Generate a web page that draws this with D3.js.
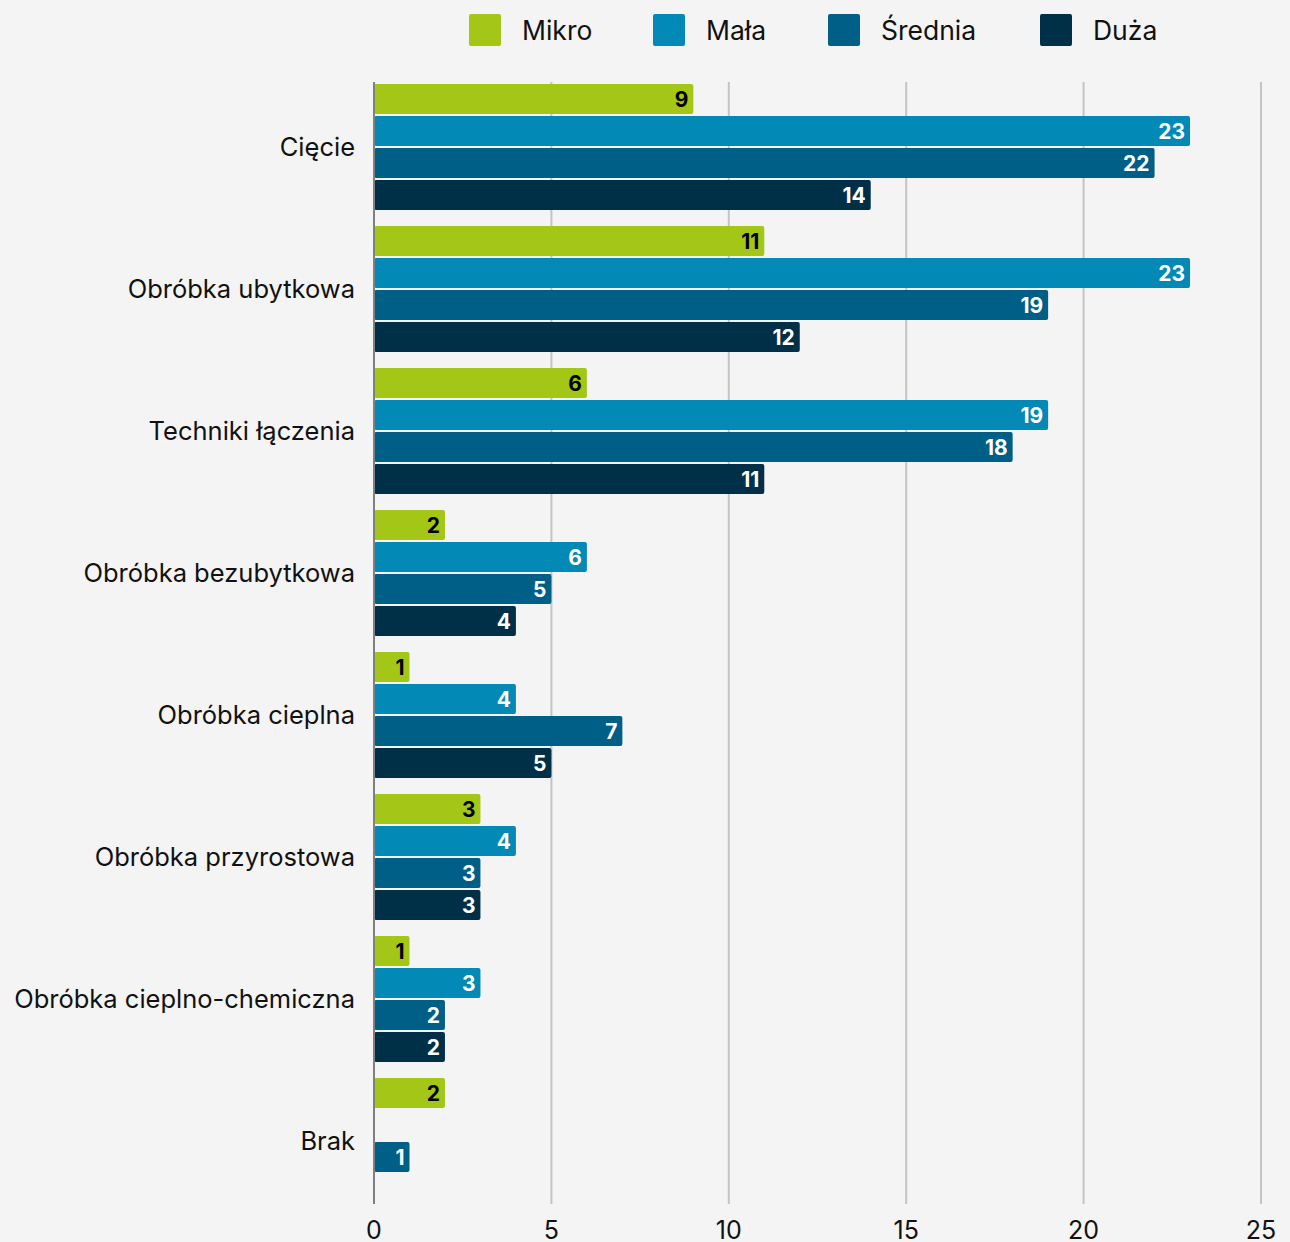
<!DOCTYPE html>
<html>
<head>
<meta charset="utf-8">
<script src="https://cdn.jsdelivr.net/npm/d3@7"></script>
<style>
  html, body { margin: 0; padding: 0; background: #f4f4f4; }
  svg { display: block; font-family: Inter, "Noto Sans", sans-serif; }
</style>
</head>
<body>
<div class="display"></div>
<script>
const width = 1290;
const height = 1242;

const categories = ['Cięcie', 'Obróbka ubytkowa', 'Techniki łączenia', 'Obróbka bezubytkowa', 'Obróbka cieplna', 'Obróbka przyrostowa', 'Obróbka cieplno-chemiczna', 'Brak'];
const series = ['Mikro', 'Mała', 'Średnia', 'Duża'];
const mikro = [9, 11, 6, 2, 1, 3, 1, 2];
const mala = [23, 23, 19, 6, 4, 4, 3, 0];
const srednia = [22, 19, 18, 5, 7, 3, 2, 1];
const duza = [14, 12, 11, 4, 5, 3, 2, 0];
const xTicks = [0, 5, 10, 15, 20, 25];

const colors = ['#a3c617', '#0289b5', '#005f87', '#003047'];
const labelColors = ['#000', '#fff', '#fff', '#fff'];
const values = [mikro, mala, srednia, duza];

const dataset = categories.map((c, i) => ({
    category: c,
    bars: series.map((s, j) => ({series: s, index: j, value: values[j][i]}))
}));

const svg = d3.select('.display')
    .append('svg')
    .attr('width', width)
    .attr('height', height)
    .style('background-color', '#f4f4f4');

const xScale = d3.scaleLinear()
    .domain([0, 25])
    .range([374, 1261]);

const yScale = d3.scaleBand()
    .domain(categories)
    .range([76, 1212])
    .paddingInner(16 / 142)
    .paddingOuter(8 / 142);

const subScale = d3.scaleBand()
    .domain(series)
    .range([0, yScale.bandwidth()])
    .paddingInner(0.06);

// gridlines
svg.append('g')
    .selectAll('line')
    .data(xTicks.filter(d => d > 0))
    .enter()
    .append('line')
    .attr('x1', d => xScale(d))
    .attr('x2', d => xScale(d))
    .attr('y1', 82)
    .attr('y2', 1204)
    .attr('stroke', '#c4c4c4')
    .attr('stroke-width', 2);

// bars
const groups = svg.append('g')
    .selectAll('g')
    .data(dataset)
    .enter()
    .append('g')
    .attr('transform', d => `translate(0, ${yScale(d.category)})`);

groups.selectAll('rect')
    .data(d => d.bars.filter(b => b.value > 0))
    .enter()
    .append('rect')
    .attr('x', xScale(0))
    .attr('y', d => subScale(d.series))
    .attr('width', d => xScale(d.value) - xScale(0))
    .attr('height', subScale.bandwidth())
    .attr('rx', 2)
    .attr('fill', d => colors[d.index]);

groups.selectAll('text')
    .data(d => d.bars.filter(b => b.value > 0))
    .enter()
    .append('text')
    .attr('x', d => xScale(d.value) - 5)
    .attr('y', d => subScale(d.series) + subScale.bandwidth() / 2)
    .attr('dy', '0.36em')
    .attr('text-anchor', 'end')
    .attr('font-size', 21)
    .attr('font-weight', 700)
    .attr('fill', d => labelColors[d.index])
    .text(d => d.value);

// y axis line
svg.append('line')
    .attr('x1', xScale(0))
    .attr('x2', xScale(0))
    .attr('y1', 82)
    .attr('y2', 1204)
    .attr('stroke', '#808080')
    .attr('stroke-width', 2);

// category labels
svg.append('g')
    .selectAll('text')
    .data(categories)
    .enter()
    .append('text')
    .attr('x', 355)
    .attr('y', d => yScale(d) + yScale.bandwidth() / 2)
    .attr('dy', '0.35em')
    .attr('text-anchor', 'end')
    .attr('font-size', 25.5)
    .attr('fill', '#111')
    .text(d => d);

// x tick labels
svg.append('g')
    .selectAll('text')
    .data(xTicks)
    .enter()
    .append('text')
    .attr('x', d => xScale(d))
    .attr('y', 1230)
    .attr('dy', '0.35em')
    .attr('text-anchor', 'middle')
    .attr('font-size', 25)
    .attr('fill', '#111')
    .text(d => d);

// legend
const legendX = [469, 653, 828, 1040];
const legend = svg.append('g');
series.forEach((s, i) => {
    legend.append('rect')
        .attr('x', legendX[i])
        .attr('y', 14)
        .attr('width', 32)
        .attr('height', 32)
        .attr('rx', 2)
        .attr('fill', colors[i]);
    legend.append('text')
        .attr('x', legendX[i] + 53)
        .attr('y', 31)
        .attr('dy', '0.35em')
        .attr('font-size', 26.5)
        .attr('fill', '#111')
        .text(s);
});
</script>
</body>
</html>
